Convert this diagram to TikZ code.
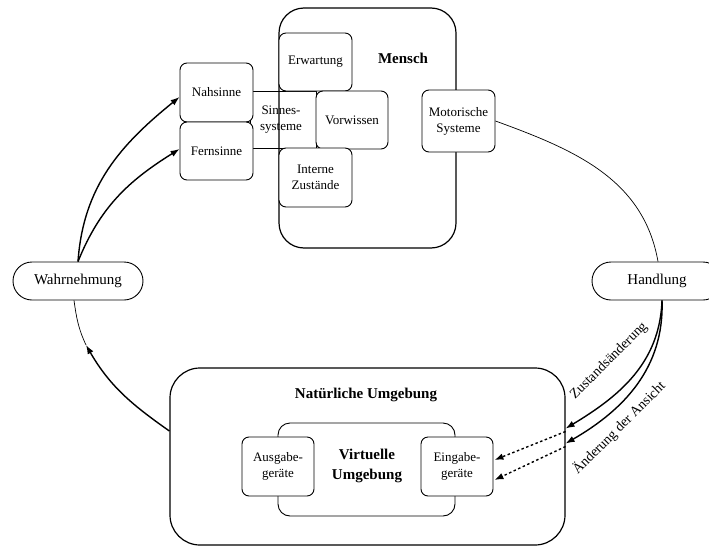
\documentclass[tikz,border=0pt]{standalone}
\usepackage{fontspec}
\setmainfont{Liberation Serif}
\usetikzlibrary{arrows.meta}
\begin{document}
\begin{tikzpicture}[x=1pt,y=1pt,
  box/.style={draw, line width=0.9pt, rounded corners=7pt, fill=white,
    minimum width=73pt, minimum height=58pt, align=center, inner sep=1pt,
    font=\fontsize{13}{16}\selectfont},
  bigbox/.style={draw, line width=1.2pt, rounded corners=27pt},
  pill/.style={draw, line width=0.9pt, rounded corners=19pt, fill=white,
    minimum width=130pt, minimum height=38pt, font=\fontsize{15}{18}\selectfont},
  title/.style={font=\fontsize{15}{20}\selectfont\bfseries, align=center},
  flow/.style={line width=1.4pt, -{Latex[length=9pt,width=6.5pt]}},
  ring/.style={line width=0.7pt},
  dotflow/.style={line width=1.4pt, dash pattern=on 2.5pt off 2.5pt,
    -{Latex[length=9pt,width=6.5pt]}},
  slanted/.style={font=\fontsize{14}{16}\selectfont, rotate=45, inner sep=0pt}]
\useasboundingbox (0,0) rectangle (709,-546);
\fill[white] (0,0) rectangle (709,-546);

% Mensch
\node[bigbox, minimum width=177pt, minimum height=240pt, rounded corners=25pt]
  (mensch) at (367.5,-128) {};
\node[title] (menschlbl) at (403,-58) {Mensch};
\node[draw, line width=0.9pt, minimum width=66pt, minimum height=57pt,
  inner sep=0pt] (sinn) at (283,-119.5) {};
\node[box] (erw) at (315.5,-62) {Erwartung};
\node[box, minimum width=72pt] (vorw) at (352,-120) {Vorwissen};
\node[box, minimum height=59pt] (int) at (315.5,-177.5) {Interne\\Zustände};
\node[box, minimum height=59pt] (nahs) at (216.5,-92.5) {Nahsinne};
\node[box] (fern) at (216.5,-151) {Fernsinne};
\node[align=center, font=\fontsize{13}{15.5}\selectfont] (sinnlbl) at (281,-119.5)
  {Sinnes-\\systeme};
\node[box, minimum height=62pt] (mot) at (458.5,-121) {Motorische\\Systeme};

% Wahrnehmung / Handlung
\node[pill] (wahr) at (78,-281) {Wahrnehmung};
\node[pill] (hand) at (657,-281) {Handlung};

% Natuerliche und virtuelle Umgebung
\node[bigbox, minimum width=395pt, minimum height=177pt, rounded corners=30pt]
  (nu) at (367.5,-456.5) {};
\node[title] (nulbl) at (366,-395) {Natürliche Umgebung};
\node[draw, line width=0.9pt, rounded corners=12pt, minimum width=177pt,
  minimum height=93pt] (vu) at (366.5,-469.5) {};
\node[title] (vulbl) at (367,-466) {Virtuelle\\Umgebung};
\node[box, minimum width=72pt, minimum height=59pt] (ausg) at (278,-466.5)
  {Ausgabe-\\geräte};
\node[box, minimum width=72pt, minimum height=59pt] (eing) at (457,-466.5)
  {Eingabe-\\geräte};

% Wahrnehmung zu den Sinnen
\draw[flow] (wahr.north) to[out=86,in=219] ([yshift=-4.5pt]nahs.west);
\draw[flow] (wahr.north) to[out=68,in=212] ([yshift=2pt]fern.west);

% Umgebung zur Wahrnehmung
\coordinate (wtip) at (86,-345);
\draw[flow] ([yshift=25.5pt]nu.west) to[out=145,in=-60] (wtip);
\draw[ring] (wtip) to[out=115,in=-82] ([xshift=-4pt]wahr.south);

% Motorik zur Handlung
\draw[ring] (mot.east) to[out=-20,in=100] ([xshift=1pt]hand.north);

% Handlung auf die Umgebung
\coordinate (za) at ([yshift=28pt]nu.east);
\coordinate (zb) at ([yshift=13pt]nu.east);
\draw[flow] ([xshift=5pt]hand.south) to[out=-92,in=31] (za);
\draw[flow] ([xshift=5pt]hand.south) to[out=-88,in=30] (zb);
\draw[dotflow] ([yshift=-3pt]za) -- ([xshift=1pt,yshift=6.5pt]eing.east);
\draw[dotflow] ([yshift=-3pt]zb) -- ([xshift=1pt,yshift=-13.5pt]eing.east);
\node[slanted] (lblz) at (609,-361) {Zustandsänderung};
\node[slanted] (lbla) at (619,-428) {Änderung der Ansicht};
\end{tikzpicture}
\end{document}
